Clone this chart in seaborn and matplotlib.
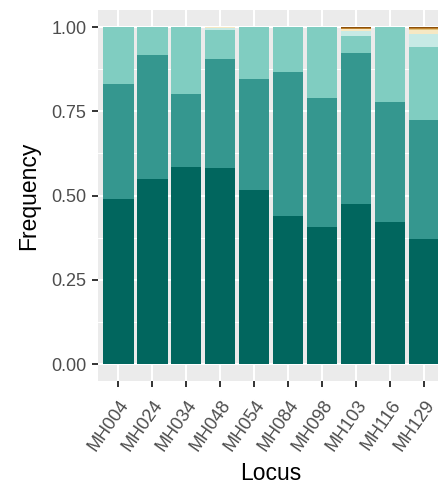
import matplotlib
matplotlib.use("Agg")
import matplotlib.pyplot as plt
import numpy as np
import pandas as pd
import seaborn as sns

# -----------------------------
# Dados: frequência de alelos por locus
# -----------------------------
loci = ["MH004", "MH024", "MH034", "MH048", "MH054",
        "MH084", "MH098", "MH103", "MH116", "MH129"]

allele_1 = [0.490, 0.549, 0.585, 0.582, 0.516, 0.439, 0.407, 0.475, 0.421, 0.371]
allele_2 = [0.341, 0.368, 0.216, 0.323, 0.330, 0.427, 0.382, 0.448, 0.356, 0.353]
allele_3 = [0.169, 0.083, 0.199, 0.087, 0.154, 0.134, 0.211, 0.049, 0.223, 0.216]
allele_4 = [0.000, 0.000, 0.000, 0.005, 0.000, 0.000, 0.000, 0.015, 0.000, 0.039]
allele_5 = [0.000, 0.000, 0.000, 0.003, 0.000, 0.000, 0.000, 0.007, 0.000, 0.012]
allele_6 = [0.000, 0.000, 0.000, 0.000, 0.000, 0.000, 0.000, 0.000, 0.000, 0.003]
allele_7 = [0.000, 0.000, 0.000, 0.000, 0.000, 0.000, 0.000, 0.003, 0.000, 0.003]
allele_8 = [0.000, 0.000, 0.000, 0.000, 0.000, 0.000, 0.000, 0.003, 0.000, 0.003]

# paleta BrBG (de baixo para cima)
colors = ["#01665E", "#35978F", "#80CDC1", "#C7EAE5",
          "#F6E8C3", "#DFC27D", "#BF812D", "#8C510A"]

y_ticks = [0.0, 0.25, 0.5, 0.75, 1.0]
y_labels = ["0.00", "0.25", "0.50", "0.75", "1.00"]

# -----------------------------
# Preparar dados (posição "fill")
# -----------------------------
freq = pd.DataFrame({
    "A1": allele_1, "A2": allele_2, "A3": allele_3, "A4": allele_4,
    "A5": allele_5, "A6": allele_6, "A7": allele_7, "A8": allele_8,
}, index=loci)
freq = freq.div(freq.sum(axis=1), axis=0)
cum = freq.cumsum(axis=1)

# -----------------------------
# Tema estilo ggplot
# -----------------------------
sns.set_theme(style="darkgrid", rc={
    "axes.facecolor": "#EBEBEB",
    "grid.color": "white",
    "axes.edgecolor": "none",
})
plt.rcParams["font.family"] = ["Liberation Sans", "DejaVu Sans"]

fig = plt.figure(figsize=(4.38, 4.86), dpi=100)
ax = fig.add_axes([0.2235, 0.2163, 0.791, 0.7627])

# empilhar: desenha do topo (acumulado) para baixo
for col, color in reversed(list(zip(cum.columns, colors))):
    sns.barplot(x=loci, y=cum[col].values, color=color, saturation=1,
                width=0.9, errorbar=None, linewidth=0, ax=ax)

ax.set_xlim(-0.6, len(loci) - 0.4)
ax.set_ylim(-0.05, 1.05)
ax.set_yticks(y_ticks)
ax.set_yticklabels(y_labels)
ax.set_yticks([0.125, 0.375, 0.625, 0.875], minor=True)

ax.set_axisbelow(True)
ax.grid(True, which="major", axis="both", color="white", linewidth=1.5)
ax.grid(True, which="minor", axis="y", color="white", linewidth=0.75)

for s in ax.spines.values():
    s.set_visible(False)

ax.tick_params(axis="both", which="major", length=4.3, width=1.4,
               color="#333333", labelcolor="#4D4D4D", labelsize=13, pad=4,
               bottom=True, left=True)
ax.tick_params(axis="x", which="major", pad=7)
ax.tick_params(axis="both", which="minor", length=0)

for lab in ax.get_xticklabels():
    lab.set_rotation(55)
    lab.set_ha("right")
    lab.set_va("top")
    lab.set_rotation_mode("anchor")

ax.set_xlabel("Locus", fontsize=16.5, color="black", labelpad=5.5)
ax.set_ylabel("Frequency", fontsize=16.5, color="black", labelpad=8)

fig.savefig("out.png", dpi=100)
